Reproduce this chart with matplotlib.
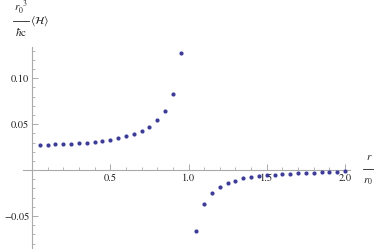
import matplotlib
matplotlib.use("Agg")
import matplotlib.pyplot as plt
from matplotlib.lines import Line2D
from matplotlib.ticker import MultipleLocator, FixedLocator

r_pos = [0.05, 0.10, 0.15, 0.20, 0.25, 0.30, 0.35, 0.40, 0.45, 0.50,
         0.55, 0.60, 0.65, 0.70, 0.75, 0.80, 0.85, 0.90, 0.95]
h_pos = [0.0275, 0.0275, 0.0279, 0.0283, 0.0286, 0.0293, 0.0297, 0.0304, 0.0315, 0.0330,
         0.0344, 0.0366, 0.0395, 0.0424, 0.0471, 0.0540, 0.0645, 0.0830, 0.1275]
r_neg = [1.05, 1.10, 1.15, 1.20, 1.25, 1.30, 1.35, 1.40, 1.45, 1.50,
         1.55, 1.60, 1.65, 1.70, 1.75, 1.80, 1.85, 1.90, 1.95, 2.00]
h_neg = [-0.0660, -0.0370, -0.0254, -0.0181, -0.0145, -0.0116, -0.0091, -0.0080, -0.0069, -0.0058,
         -0.0051, -0.0043, -0.0040, -0.0036, -0.0033, -0.0029, -0.0025, -0.0022, -0.0018, -0.0014]

x_ticks = [0.5, 1.0, 1.5, 2.0]
x_labels = ["0.5", "1.0", "1.5", "2.0"]
y_ticks = [-0.05, 0.05, 0.10]
y_labels = ["\u22120.05", "0.05", "0.10"]

plt.rcParams['mathtext.fontset'] = 'stix'
plt.rcParams['font.family'] = ['STIXGeneral', 'DejaVu Serif']

W, H = 374, 249
fig = plt.figure(figsize=(W / 100, H / 100), dpi=100)
ax = fig.add_axes([23/W, 0.0, 327/W, 202/H])
ax.set_xlim(-9/156.5, 2.0 + 5/156.5)
ax.set_ylim(-0.0859, 0.134)

pt_color = '#3d3d99'
ax.scatter(r_pos + r_neg, h_pos + h_neg, s=9, color=pt_color, linewidths=0, zorder=3)

for s in ['top', 'right']:
    ax.spines[s].set_visible(False)
ax.spines['left'].set_position(('data', 0))
ax.spines['bottom'].set_position(('data', 0))
axis_col = '#aaaaaa'
for s in ['left', 'bottom']:
    ax.spines[s].set_color(axis_col)
    ax.spines[s].set_linewidth(0.8)

ax.xaxis.set_major_locator(FixedLocator(x_ticks))
ax.set_xticklabels(x_labels)
ax.xaxis.set_minor_locator(MultipleLocator(0.1))
ax.yaxis.set_major_locator(FixedLocator(y_ticks))
ax.set_yticklabels(y_labels)
ax.yaxis.set_minor_locator(MultipleLocator(0.01))

ax.tick_params(axis='x', which='major', direction='in', length=4, width=0.7, color=axis_col,
               labelsize=7.5, pad=2, labelcolor='#222222')
ax.tick_params(axis='x', which='minor', direction='in', length=2.2, width=0.6, color=axis_col)
ax.tick_params(axis='y', which='major', direction='in', length=4, width=0.7, color=axis_col,
               labelsize=7.5, pad=2, labelcolor='#222222')
ax.tick_params(axis='y', which='minor', direction='in', length=2.2, width=0.6, color=axis_col)

tc = '#222222'
def fx(px):
    return px / W
def fy(py):
    return 1 - py / H

# y-axis label: r0^3 / (hbar c) <H>
fig.text(fx(21), fy(8), r'$r_0^{\ \ 3}$', fontsize=8, ha='center', va='center', color=tc)
fig.add_artist(Line2D([fx(13), fx(29)], [fy(21.5), fy(21.5)], color=tc, lw=0.6))
fig.text(fx(21), fy(32), r'$\hbar\mathrm{c}$', fontsize=8, ha='center', va='center', color=tc)
fig.text(fx(30), fy(21.5), r'$\langle\mathcal{H}\rangle$', fontsize=8, ha='left', va='center', color=tc)

# x-axis label: r / r0
fig.text(fx(369), fy(157), r'$r$', fontsize=8, ha='center', va='center', color=tc)
fig.add_artist(Line2D([fx(363), fx(374)], [fy(169), fy(169)], color=tc, lw=0.6))
fig.text(fx(368), fy(182), r'$r_0$', fontsize=8, ha='center', va='center', color=tc)

fig.savefig('out.png', dpi=100)
